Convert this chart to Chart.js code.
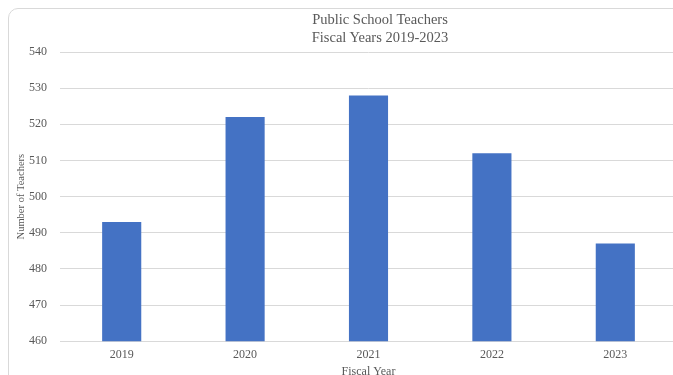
<!DOCTYPE html>
<html>
<head>
<meta charset="utf-8">
<script src="https://cdn.jsdelivr.net/npm/chart.js@4"></script>
<style>
  html, body { margin: 0; padding: 0; background: #fff; overflow: hidden; }
  #wrap { position: relative; width: 673px; height: 375px; overflow: hidden; }
  #box { position: absolute; left: 0; top: 0; width: 760px; height: 381px; }
  #titulo { position: absolute; left: 0; top: 10px; width: 760px; text-align: center;
            font-family: 'Liberation Serif', 'Times New Roman', serif; font-size: 14.5px;
            line-height: 18px; color: #595959; }
  #frame { position: absolute; left: 8px; top: 8px; width: 800px; height: 400px;
           border: 1px solid #d9d9d9; border-radius: 10px; pointer-events: none; }
</style>
</head>
<body>
<div id="wrap">
  <div id="box"><canvas id="chart1"></canvas></div>
  <div id="titulo"></div>
  <div id="frame"></div>
</div>
<script>
const anos = ['2019', '2020', '2021', '2022', '2023'];
const professores = [493, 522, 528, 512, 487];
const tituloLinhas = ['Public School Teachers', 'Fiscal Years 2019-2023'];

const cinza = '#595959';
const fonte = 'Liberation Serif, Times New Roman, serif';

document.getElementById('titulo').innerHTML = tituloLinhas.join('<br>');

var ctx1 = document.getElementById('chart1').getContext('2d');
var chart1 = new Chart(ctx1, {
    type: 'bar',
    data: {
        labels: anos,
        datasets: [{
            label: 'Number of Teachers',
            data: professores,
            backgroundColor: '#4472C4',
            borderWidth: 0,
            barPercentage: 1,
            categoryPercentage: 0.317
        }]
    },
    options: {
        responsive: true,
        maintainAspectRatio: false,
        animation: false,
        layout: {
            padding: { left: 15, right: 83, top: 52, bottom: 2 }
        },
        plugins: {
            legend: { display: false },
            tooltip: { enabled: false },
            title: { display: false }
        },
        scales: {
            x: {
                grid: { display: false, drawTicks: false },
                border: { color: '#d9d9d9' },
                ticks: { color: cinza, font: { family: fonte, size: 12 }, padding: 6 },
                title: {
                    display: true,
                    text: 'Fiscal Year',
                    color: cinza,
                    font: { family: fonte, size: 12 },
                    padding: { top: -3, bottom: 0 }
                }
            },
            y: {
                min: 460,
                max: 540,
                border: { display: false },
                grid: { color: '#d9d9d9', drawTicks: false },
                ticks: { stepSize: 10, color: cinza, font: { family: fonte, size: 12 }, padding: 13 },
                title: {
                    display: true,
                    text: 'Number of Teachers',
                    color: cinza,
                    font: { family: fonte, size: 10.5 },
                    padding: { top: 0, bottom: 0 }
                },
                afterFit: function (scale) {
                    scale.width = 45;
                }
            }
        }
    }
});
</script>
</body>
</html>
